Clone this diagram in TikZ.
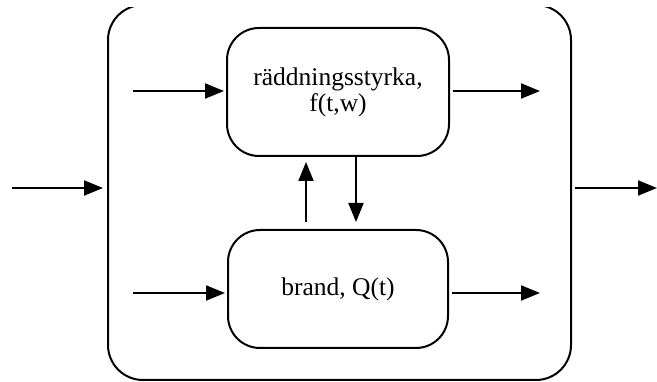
\documentclass[tikz,border=0pt]{standalone}
\usepackage{fontspec}
\setmainfont{Liberation Serif}
\usetikzlibrary{arrows.meta}
\begin{document}
\begin{tikzpicture}[x=1pt,y=-1pt,
  box/.style={draw,line width=2pt,rounded corners=32pt,align=center,
    font=\fontsize{25.5}{26}\selectfont,inner sep=0pt},
  flow/.style={line width=2pt,-{Triangle[length=19pt,width=15pt]}}]
\useasboundingbox (0,0) rectangle (657,382);
% outer system boundary, open at the top edge
\begin{scope}
  \clip (0,7.5) rectangle (657,382);
  \node[draw,line width=2pt,rounded corners=35pt,minimum width=463pt,
    minimum height=375pt,inner sep=0pt] (outer) at (339.5,192.5) {};
\end{scope}
% inner subsystems
\node[box,minimum width=222pt,minimum height=128pt] (rs) at (338,92)
  {räddningsstyrka,\\f(t,w)};
\node[box,minimum width=220pt,minimum height=118pt] (br) at (338,289)
  {brand, Q(t)};
% free ends of connectors
\coordinate (inOut) at (12,188);
\coordinate (outOut) at (657,188);
\coordinate (inRs) at (133,91);
\coordinate (outRs) at (540,91);
\coordinate (inBr) at (133,293);
\coordinate (outBr) at (540,293);
% outer in/out
\draw[flow,shorten >=4pt] (inOut) -- (inOut -| outer.west);
\draw[flow,shorten <=3pt] (outOut -| outer.east) -- (outOut);
% subsystem in/out
\draw[flow,shorten >=2pt] (inRs) -- (inRs -| rs.west);
\draw[flow,shorten <=3pt] (outRs -| rs.east) -- (outRs);
\draw[flow,shorten >=2pt] (inBr) -- (inBr -| br.west);
\draw[flow,shorten <=3pt] (outBr -| br.east) -- (outBr);
% coupling between the two subsystems
\coordinate (up) at (306,0);
\coordinate (dn) at (356,0);
\draw[flow,shorten <=7pt,shorten >=5pt] (up |- br.north) -- (up |- rs.south);
\draw[flow,shorten >=7pt] (dn |- rs.south) -- (dn |- br.north);
\end{tikzpicture}
\end{document}
